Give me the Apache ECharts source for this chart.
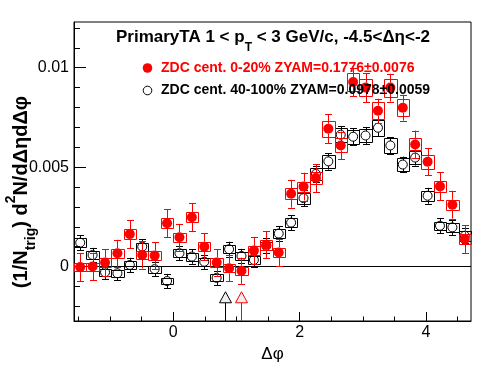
<!DOCTYPE html>
<html><head><meta charset="utf-8">
<script src="https://cdn.jsdelivr.net/npm/echarts@6/dist/echarts.min.js"></script>
<style>html,body{margin:0;padding:0;background:#fff}#c{width:496px;height:374px}</style>
</head><body><div id="c"></div>
<script>
// ---- data ----
const binCenters = [-1.4726,-1.2763,-1.0799,-0.8836,-0.6872,-0.4909,-0.2945,-0.0982,0.0982,0.2945,0.4909,0.6872,0.8836,1.0799,1.2763,1.4726,1.6690,1.8653,2.0617,2.2580,2.4544,2.6507,2.8471,3.0434,3.2398,3.4361,3.6325,3.8288,4.0252,4.2215,4.4179,4.6142];
const binWidth = 0.19635;
const redY = [-0.00003,0.00000,0.00020,0.00067,0.00163,0.00058,0.00055,0.00218,0.00147,0.00248,0.00100,0.00020,-0.00009,-0.00021,0.00080,0.00109,0.00071,0.00366,0.00402,0.00445,0.00693,0.00609,0.00928,0.00900,0.00784,0.00900,0.00799,0.00614,0.00527,0.00403,0.00311,0.00138];
const redStat = [0.00070,0.00070,0.00068,0.00068,0.00070,0.00068,0.00068,0.00070,0.00068,0.00070,0.00068,0.00066,0.00066,0.00066,0.00068,0.00068,0.00068,0.00070,0.00070,0.00070,0.00072,0.00070,0.00072,0.00072,0.00060,0.00070,0.00065,0.00070,0.00068,0.00070,0.00070,0.00070];
const redSys = [0.00020,0.00020,0.00021,0.00022,0.00025,0.00022,0.00022,0.00025,0.00024,0.00026,0.00023,0.00021,0.00020,0.00020,0.00023,0.00024,0.00023,0.00027,0.00025,0.00032,0.00041,0.00035,0.00045,0.00044,0.00042,0.00045,0.00042,0.00030,0.00034,0.00028,0.00026,0.00024];
const blackY = [0.00120,0.00058,-0.00029,-0.00034,0.00008,0.00100,-0.00013,-0.00073,0.00067,0.00050,0.00024,-0.00057,0.00087,0.00053,0.00033,0.00104,0.00166,0.00221,0.00344,0.00466,0.00529,0.00663,0.00653,0.00659,0.00698,0.00609,0.00513,0.00548,0.00356,0.00205,0.00197,0.00155];
const blackStat = [0.00038,0.00036,0.00036,0.00036,0.00036,0.00038,0.00036,0.00036,0.00036,0.00036,0.00036,0.00036,0.00038,0.00036,0.00036,0.00038,0.00038,0.00038,0.00040,0.00040,0.00042,0.00042,0.00042,0.00042,0.00042,0.00042,0.00040,0.00040,0.00040,0.00038,0.00038,0.00038];
const blackSys = [0.00023,0.00020,0.00018,0.00018,0.00018,0.00020,0.00018,0.00016,0.00020,0.00020,0.00019,0.00018,0.00020,0.00020,0.00019,0.00020,0.00022,0.00024,0.00027,0.00030,0.00031,0.00036,0.00035,0.00035,0.00040,0.00036,0.00032,0.00033,0.00025,0.00021,0.00021,0.00025];
const arrowBlackX = [0.818];
const arrowRedX = [1.071];
const arrowTipY = -0.00127;
const xMajorTicks = [0, 2, 4];
const xMinorTicks = [-1.5,-1,-0.5,0.5,1,1.5,2.5,3,3.5,4.5];
const yMajorTicks = [0, 0.005, 0.01];
const yMinorTicks = [-0.002,-0.001,0.001,0.002,0.003,0.004,0.006,0.007,0.008,0.009,0.011,0.012];
const xMin = -Math.PI/2, xMax = 3*Math.PI/2;
const yMin = -0.00274, yMax = 0.0123;
const titleText = '{m|PrimaryTA 1 < p}{s|T}{m| < 3 GeV/c, -4.5<Δη<-2}';
const yTitleText = '{m|(1/N}{s|trig}{m|) d}{p|2}{m|N/dΔηdΔφ}';
const legendRed = 'ZDC cent. 0-20% ZYAM=0.1776±0.0076';
const legendBlack = 'ZDC cent. 40-100% ZYAM=0.0978±0.0059';

const FONT = "'Liberation Sans', Arial, Helvetica, sans-serif";
const RED = '#ff0000', BLACK = '#000000';
const crisp = v => Math.round(v) + 0.5;

function boxSeries(ys, sys, color, z) {
  return {
    type: 'custom', z: z, silent: true,
    data: binCenters.map((c, i) => [c, ys[i], sys[i]]),
    encode: {x: 0, y: 1},
    renderItem: function (params, api) {
      const x = api.value(0), y = api.value(1), s = api.value(2);
      const p1 = api.coord([x - binWidth / 2, y + s]);
      const p2 = api.coord([x + binWidth / 2, y - s]);
      const x1 = crisp(p1[0]), y1 = crisp(p1[1]), x2 = crisp(p2[0]), y2 = crisp(p2[1]);
      return {type: 'rect', shape: {x: x1, y: y1, width: x2 - x1, height: y2 - y1},
        style: {fill: 'none', stroke: color, lineWidth: 1}};
    }
  };
}
function errSeries(ys, errs, color, z, r) {
  return {
    type: 'custom', z: z, silent: true,
    data: binCenters.map((c, i) => [c, ys[i], errs[i]]),
    encode: {x: 0, y: 1},
    renderItem: function (params, api) {
      const x = api.value(0), y = api.value(1), e = api.value(2);
      const pc = api.coord([x, y]);
      const pt = api.coord([x, y + e]);
      const pb = api.coord([x, y - e]);
      const cx = crisp(pc[0]);
      const st = {stroke: color, lineWidth: 1};
      const ch = [];
      if (pc[1] - r > pt[1]) ch.push({type: 'line', shape: {x1: cx, y1: pt[1], x2: cx, y2: pc[1] - r}, style: st});
      if (pc[1] + r < pb[1]) ch.push({type: 'line', shape: {x1: cx, y1: pc[1] + r, x2: cx, y2: pb[1]}, style: st});
      ch.push({type: 'line', shape: {x1: cx - 3.5, y1: crisp(pt[1]), x2: cx + 3.5, y2: crisp(pt[1])}, style: st});
      ch.push({type: 'line', shape: {x1: cx - 3.5, y1: crisp(pb[1]), x2: cx + 3.5, y2: crisp(pb[1])}, style: st});
      return {type: 'group', children: ch};
    }
  };
}
function arrowSeries(xs, color, z) {
  return {
    type: 'custom', z: z, silent: true,
    data: xs.map(x => [x, arrowTipY]),
    encode: {x: 0, y: 1},
    renderItem: function (params, api) {
      const p = api.coord([api.value(0), api.value(1)]);
      const b = api.coord([api.value(0), yMin]);
      const cx = crisp(p[0]), ty = p[1];
      return {type: 'group', children: [
        {type: 'line', shape: {x1: cx, y1: ty + 11, x2: cx, y2: b[1]}, style: {stroke: color, lineWidth: 1}},
        {type: 'polygon', shape: {points: [[cx, ty], [cx - 6, ty + 11], [cx + 6, ty + 11]]},
          style: {fill: '#eeeeee', stroke: color, lineWidth: 1}}
      ]};
    }
  };
}

const chart = echarts.init(document.getElementById('c'), null, {renderer: 'canvas'});
const axisCommon = {type: 'value', splitLine: {show: false}};
chart.setOption({
  animation: false,
  backgroundColor: '#ffffff',
  grid: {left: 74, right: 25, top: 22, bottom: 53, show: true, borderColor: BLACK, borderWidth: 1},
  xAxis: [
    Object.assign({}, axisCommon, {
      min: xMin, max: xMax,
      axisLine: {show: true, onZero: false, lineStyle: {color: BLACK, width: 1}},
      axisTick: {show: true, inside: true, length: 9, customValues: xMajorTicks, lineStyle: {color: BLACK}},
      axisLabel: {show: true, customValues: xMajorTicks, color: BLACK, fontFamily: FONT, fontSize: 16, margin: 4,
        formatter: v => String(v)},
      name: 'Δφ', nameLocation: 'middle', nameGap: 21,
      nameTextStyle: {color: BLACK, fontFamily: FONT, fontSize: 17, verticalAlign: 'top'}
    }),
    Object.assign({}, axisCommon, {
      min: xMin, max: xMax, position: 'bottom',
      axisLine: {show: false, onZero: false},
      axisTick: {show: true, inside: true, length: 4.5, customValues: xMinorTicks, lineStyle: {color: BLACK}},
      axisLabel: {show: false}
    })
  ],
  yAxis: [
    Object.assign({}, axisCommon, {
      min: yMin, max: yMax,
      axisLine: {show: true, onZero: false, lineStyle: {color: BLACK, width: 1}},
      axisTick: {show: true, inside: true, length: 12, customValues: yMajorTicks, lineStyle: {color: BLACK}},
      axisLabel: {show: true, customValues: yMajorTicks, color: BLACK, fontFamily: FONT, fontSize: 16, margin: 5,
        formatter: v => (Math.abs(v) < 1e-12 ? '0' : String(+v.toFixed(4)))}
    }),
    Object.assign({}, axisCommon, {
      min: yMin, max: yMax, position: 'left',
      axisLine: {show: false, onZero: false},
      axisTick: {show: true, inside: true, length: 6, customValues: yMinorTicks, lineStyle: {color: BLACK}},
      axisLabel: {show: false}
    })
  ],
  graphic: [
    {type: 'text', left: 116, top: 29, z: 100, style: {
      text: titleText, fill: BLACK,
      rich: {
        m: {fontFamily: FONT, fontWeight: 'bold', fontSize: 17, lineHeight: 32, verticalAlign: 'middle', fill: BLACK, color: BLACK},
        s: {fontFamily: FONT, fontWeight: 'bold', fontSize: 12, lineHeight: 12, verticalAlign: 'bottom', fill: BLACK, color: BLACK}
      }}},
    {type: 'text', x: 21, y: 192, rotation: Math.PI / 2, z: 100, style: {
      text: yTitleText, fill: BLACK, align: 'center', verticalAlign: 'middle',
      rich: {
        m: {fontFamily: FONT, fontWeight: 'bold', fontSize: 20, lineHeight: 34, verticalAlign: 'middle', fill: BLACK, color: BLACK},
        s: {fontFamily: FONT, fontWeight: 'bold', fontSize: 14, lineHeight: 14, verticalAlign: 'bottom', fill: BLACK, color: BLACK},
        p: {fontFamily: FONT, fontWeight: 'bold', fontSize: 14, lineHeight: 14, verticalAlign: 'top', fill: BLACK, color: BLACK}
      }}},
    {type: 'circle', z: 100, shape: {cx: 147.5, cy: 68, r: 4.8}, style: {fill: RED}},
    {type: 'text', x: 161, y: 68, z: 100, style: {text: legendRed, fill: RED, font: "bold 14px " + FONT, verticalAlign: 'middle', align: 'left'}},
    {type: 'circle', z: 100, shape: {cx: 147.5, cy: 90.5, r: 4.3}, style: {fill: 'none', stroke: BLACK, lineWidth: 1}},
    {type: 'text', x: 161, y: 90.5, z: 100, style: {text: legendBlack, fill: BLACK, font: "bold 14px " + FONT, verticalAlign: 'middle', align: 'left'}}
  ],
  series: [
    Object.assign(boxSeries(blackY, blackSys, BLACK, 2), {
      markLine: {silent: true, symbol: 'none', label: {show: false},
        lineStyle: {color: BLACK, type: 'solid', width: 1}, data: [{yAxis: 0}]}
    }),
    errSeries(blackY, blackStat, BLACK, 3, 4.5),
    {type: 'scatter', z: 4, silent: true, symbol: 'circle', symbolSize: 9,
      data: binCenters.map((c, i) => [c, blackY[i]]),
      itemStyle: {color: 'rgba(0,0,0,0)', borderColor: BLACK, borderWidth: 1, opacity: 1}},
    boxSeries(redY, redSys, RED, 5),
    errSeries(redY, redStat, RED, 6, 5),
    {type: 'scatter', z: 7, silent: true, symbol: 'circle', symbolSize: 10,
      data: binCenters.map((c, i) => [c, redY[i]]),
      itemStyle: {color: RED, opacity: 1}},
    arrowSeries(arrowBlackX, BLACK, 8),
    arrowSeries(arrowRedX, RED, 8)
  ]
});
</script></body></html>
